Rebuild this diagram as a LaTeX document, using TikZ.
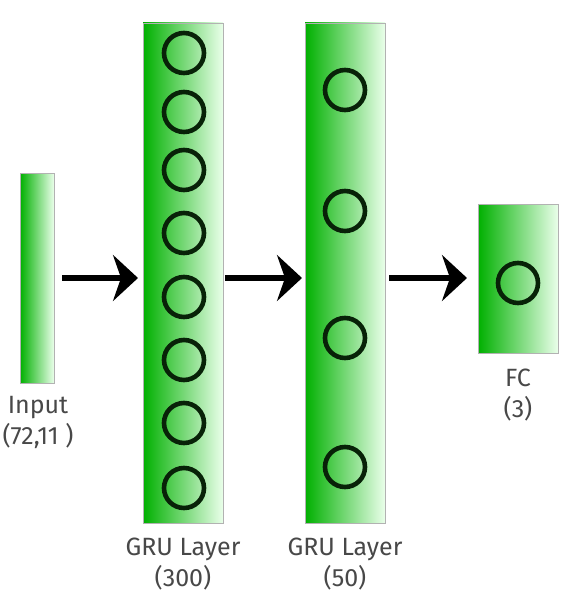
\documentclass[tikz,border=0pt]{standalone}
\usepackage{fontspec}
\setmainfont{Fira Sans}
\usetikzlibrary{arrows.meta}
\definecolor{barleft}{RGB}{0,176,0}
\definecolor{barright}{RGB}{234,255,234}
\definecolor{ringcol}{RGB}{8,34,8}
\definecolor{labelgray}{RGB}{72,72,72}

\begin{document}
\begin{tikzpicture}[x=1pt,y=-1pt,
    layer/.style={draw=gray!60, line width=0.8pt, left color=barleft, right color=barright,
                  minimum width=80pt, inner sep=0pt, outer sep=0pt},
    unit/.style={circle, draw=ringcol, line width=4.6pt, minimum size=40pt, inner sep=0pt},
    lbl/.style={text=labelgray, font=\fontsize{25}{31}\selectfont, align=center, anchor=north, inner sep=0pt},
    flow/.style={line width=6pt, -{Stealth[length=25pt,width=46pt,inset=8pt]}}]
        \useasboundingbox (0,0) rectangle (573,594);
        % layers
        \node [layer, minimum width=34pt, minimum height=210pt] (inp) at (37,278) {};
        \node [layer, minimum height=500pt] (gruA) at (183,273) {};
        \node [layer, minimum height=500pt] (gruB) at (345,273) {};
        \node [layer, minimum height=149pt] (fc) at (518,278.5) {};
        % units
        \foreach \y [count=\i] in {53,112,170,233,297,360,423,488}
            \node [unit] (a\i) at (184,\y) {};
        \foreach \y [count=\i] in {90,211,338,467}
            \node [unit] (b\i) at (345,\y) {};
        \node [unit] (c1) at (518,283) {};
        % labels
        \node [lbl] (inplbl) at (38,396) {Input\\(72,11 )};
        \node [lbl] (gruAlbl) at (183,538) {GRU Layer\\(300)};
        \node [lbl] (gruBlbl) at (345,538) {GRU Layer\\(50)};
        \node [lbl] (fclbl) at (518,369) {FC\\(3)};
        % arrows
        \draw [flow, shorten <=8pt, shorten >=5pt] (inp.east) -- (inp.east -| gruA.west);
        \draw [flow, shorten <=2pt, shorten >=3pt] (gruA.east |- inp.east) -- (gruB.west |- inp.east);
        \draw [flow, shorten <=4pt, shorten >=11pt] (gruB.east |- inp.east) -- (fc.west |- inp.east);
\end{tikzpicture}
\end{document}
